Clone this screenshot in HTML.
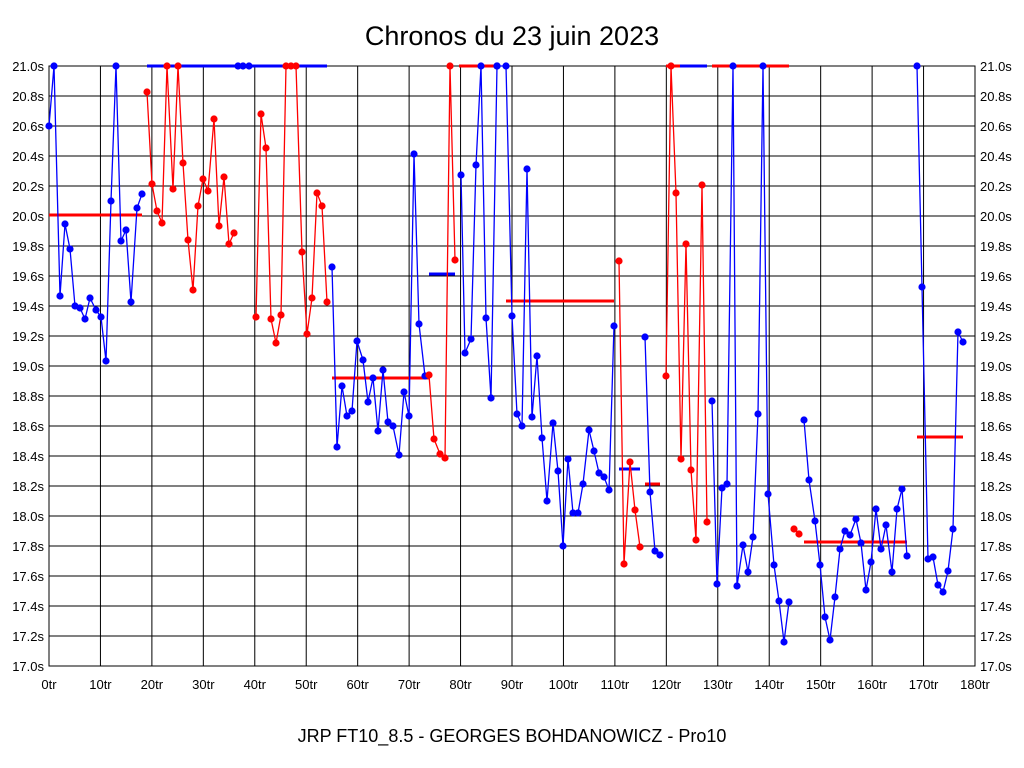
<!DOCTYPE html>
<html><head><meta charset="utf-8"><style>
html,body{margin:0;padding:0;background:#fff}
svg{display:block}
text{font-family:"Liberation Sans",Arial,sans-serif}
</style></head><body>
<svg id="s" width="1024" height="768" xmlns="http://www.w3.org/2000/svg">
<rect x="0" y="0" width="1024" height="768" fill="#fff"/>
<text x="512" y="45" font-size="27" text-anchor="middle">Chronos du 23 juin 2023</text>
<text x="512" y="742" font-size="18" text-anchor="middle">JRP FT10_8.5 - GEORGES BOHDANOWICZ - Pro10</text>
<g id="g"></g>
</svg>
<script>
var g=document.getElementById('g'),NS='http://www.w3.org/2000/svg',h='';
var L=49,R=975,T=66,B=666;
for(var i=0;i<=20;i++){var y=T+i*30;h+='<line x1="'+L+'" x2="'+R+'" y1="'+y+'" y2="'+y+'" stroke="#000" stroke-width="1"/>';
var v=(21-i*0.2).toFixed(1)+'s';
h+='<text x="44" y="'+(y+5)+'" font-size="13" text-anchor="end">'+v+'</text>';
h+='<text x="980" y="'+(y+5)+'" font-size="13">'+v+'</text>';}
for(var k=0;k<=18;k++){var x=L+k*(R-L)/18;h+='<line x1="'+x+'" x2="'+x+'" y1="'+T+'" y2="'+B+'" stroke="#000" stroke-width="1"/>';
h+='<text x="'+x+'" y="689" font-size="13" text-anchor="middle">'+(k*10)+'tr</text>';}
h+='<rect x="'+L+'" y="'+T+'" width="'+(R-L)+'" height="'+(B-T)+'" fill="none" stroke="#000"/>';
function ml(x1,x2,y,c){h+='<line x1="'+x1+'" x2="'+x2+'" y1="'+y+'" y2="'+y+'" stroke="'+c+'" stroke-width="3"/>';}
ml(49,142,215,'red');ml(147,327,66,'blue');ml(332,429,378,'red');ml(429,455,274,'blue');ml(459,497,66,'red');
ml(506,614,301,'red');ml(619,640,469,'blue');ml(645,660,484,'red');ml(666,680,66,'red');ml(680,707,66,'blue');
ml(712,789,66,'red');ml(804,907,542,'red');ml(917,963,437,'red');
var S=[
['blue',[[49,126],[54,66],[60,296],[65,224],[70,249],[75,306],[80,308],[85,319],[90,298],[96,310],[101,317],[106,361],[111,201],[116,66],[121,241],[126,230],[131,302],[137,208],[142,194]]],
['red',[[147,92],[152,184],[157,211],[162,223],[167,66],[173,189],[178,66],[183,163],[188,240],[193,290],[198,206],[203,179],[208,191],[214,119],[219,226],[224,177],[229,244],[234,233]]],
['red',[[256,317],[261,114],[266,148],[271,319],[276,343],[281,315],[286,66],[291,66],[296,66],[302,252],[307,334],[312,298],[317,193],[322,206],[327,302]]],
['blue',[[332,267],[337,447],[342,386],[347,416],[352,411],[357,341],[363,360],[368,402],[373,378],[378,431],[383,370],[388,422],[393,426],[399,455],[404,392],[409,416],[414,154],[419,324],[425,376]]],
['red',[[429,375],[434,439],[440,454],[445,458],[450,66],[455,260]]],
['blue',[[461,175],[465,353],[471,339],[476,165],[481,66],[486,318],[491,398],[497,66],[506,66],[512,316],[517,414],[522,426],[527,169],[532,417],[537,356],[542,438],[547,501],[553,423],[558,471],[563,546],[568,459],[573,513],[578,513],[583,484],[589,430],[594,451],[599,473],[604,477],[609,490],[614,326]]],
['red',[[619,261],[624,564],[630,462],[635,510],[640,547]]],
['blue',[[645,337],[650,492],[655,551],[660,555]]],
['red',[[666,376],[671,66],[676,193],[681,459],[686,244],[691,470],[696,540],[702,185],[707,522]]],
['blue',[[712,401],[717,584],[722,488],[727,484],[733,66],[737,586],[743,545],[748,572],[753,537],[758,414],[763,66],[768,494],[774,565],[779,601],[784,642],[789,602]]],
['red',[[794,529],[799,534]]],
['blue',[[804,420],[809,480],[815,521],[820,565],[825,617],[830,640],[835,597],[840,549],[845,531],[850,535],[856,519],[861,543],[866,590],[871,562],[876,509],[881,549],[886,525],[892,572],[897,509],[902,489],[907,556]]],
['blue',[[917,66],[922,287],[928,559],[933,557],[938,585],[943,592],[948,571],[953,529],[958,332],[963,342]]]
];
S.forEach(function(s){var c=s[0],p=s[1];
h+='<polyline fill="none" stroke="'+c+'" stroke-width="1.3" points="'+p.map(function(q){return q.join(',')}).join(' ')+'"/>';
p.forEach(function(q){h+='<circle cx="'+q[0]+'" cy="'+q[1]+'" r="3.6" fill="'+c+'"/>';});});
// extra dots on top line
[[238,'blue'],[243,'blue'],[249,'blue'],[497,'blue']].forEach(function(d){h+='<circle cx="'+d[0]+'" cy="66" r="3.6" fill="'+d[1]+'"/>';});
g.innerHTML=h;
</script>
</body></html>
